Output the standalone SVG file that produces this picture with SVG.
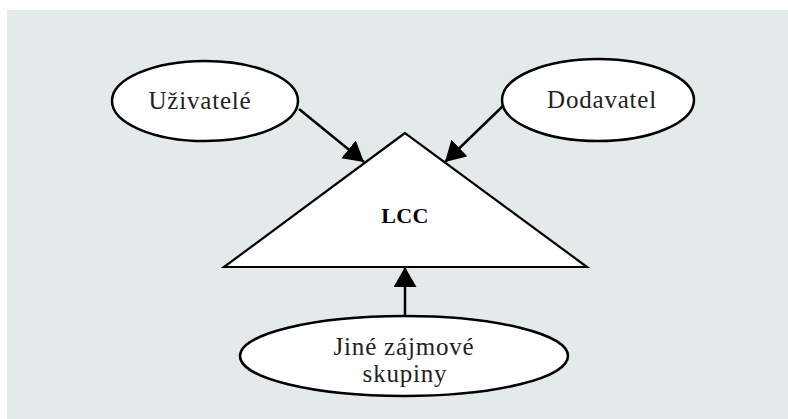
<svg xmlns="http://www.w3.org/2000/svg" width="788" height="419" viewBox="0 0 788 419">
<style>
.node{fill:#fff;stroke:#000;stroke-width:2.5}
.tri{fill:#fff;stroke:#000;stroke-width:2.2;stroke-linejoin:miter}
.lbl{font-family:"Liberation Serif","DejaVu Serif",serif;font-size:25px;letter-spacing:0.8px;fill:#222;text-anchor:middle}
.bold{font-weight:bold;font-size:22px;letter-spacing:0.3px;fill:#000}
.conn{stroke:#000;stroke-width:2.5;fill:none;marker-end:url(#ah)}
</style>
<defs>
<marker id="ah" markerUnits="userSpaceOnUse" markerWidth="22" markerHeight="24" refX="20" refY="11.5" orient="auto">
<path d="M0,0 L20,11.5 L0,23 z" fill="#000"/>
</marker>
</defs>
<rect x="7" y="10" width="781" height="409" fill="#e4eaea"/>
<g id="lcc">
<polygon class="tri" points="405,133 224,267 587,267"/>
<text class="lbl bold" x="405" y="223">LCC</text>
</g>
<g id="uzivatele">
<ellipse class="node" cx="205" cy="101" rx="93" ry="40"/>
<text class="lbl" x="200" y="109">Uživatelé</text>
</g>
<g id="dodavatel">
<ellipse class="node" cx="598" cy="100" rx="96" ry="41"/>
<text class="lbl" x="602" y="108">Dodavatel</text>
</g>
<g id="jine">
<ellipse class="node" cx="404" cy="356" rx="164" ry="40"/>
<text class="lbl" x="404" y="355">Jiné zájmové</text>
<text class="lbl" x="405" y="382">skupiny</text>
</g>
<g id="connectors">
<line class="conn" x1="299" y1="109" x2="364" y2="162"/>
<line class="conn" x1="503" y1="106" x2="445" y2="162"/>
<line class="conn" x1="405" y1="316" x2="405" y2="267"/>
</g>
</svg>
